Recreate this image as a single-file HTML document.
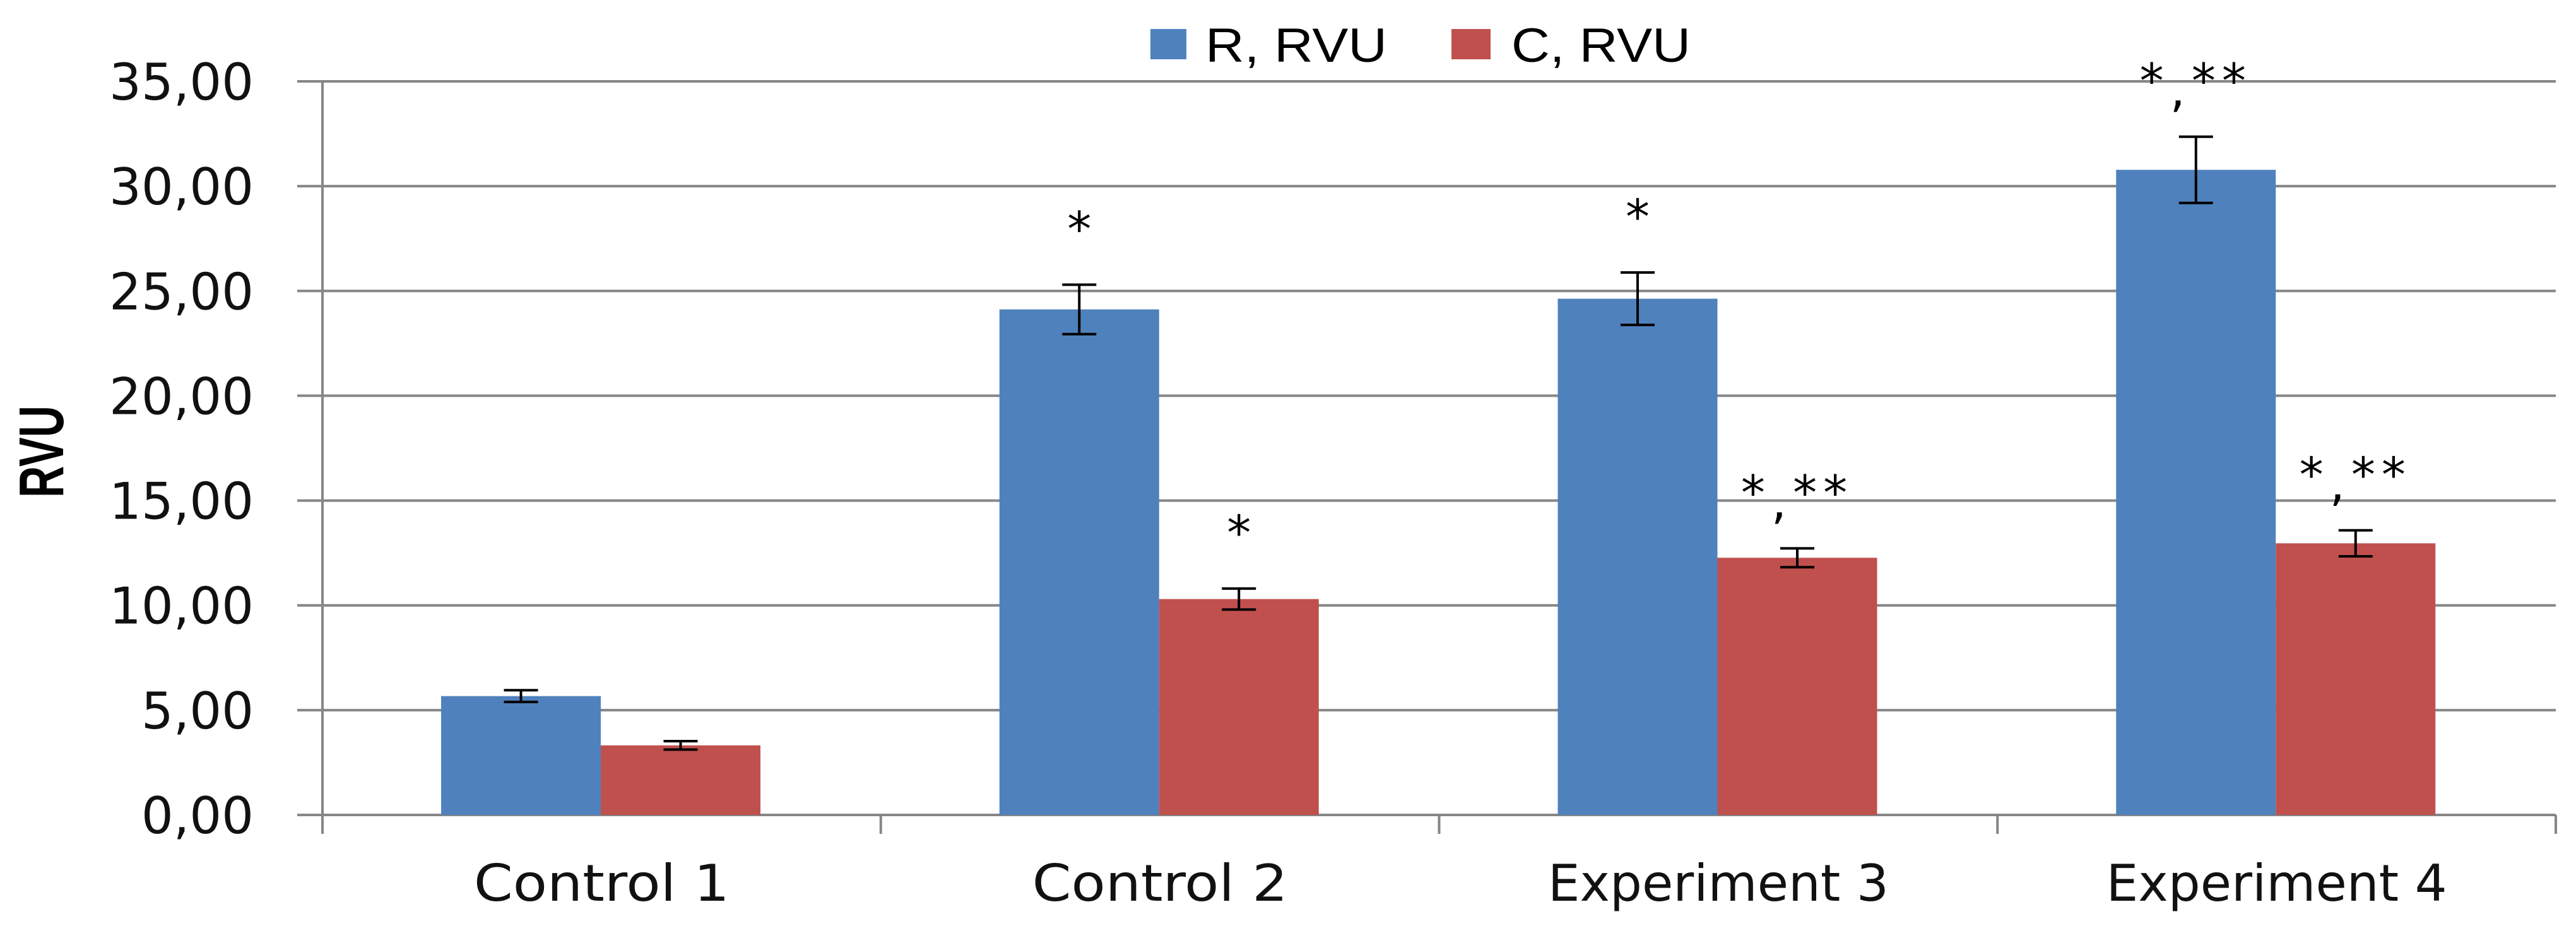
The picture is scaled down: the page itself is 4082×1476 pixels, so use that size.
<!DOCTYPE html>
<html><head><meta charset="utf-8"><style>
html,body{margin:0;padding:0;background:#fff;}
svg{display:block;}
</style></head><body>
<svg id="chart" width="4082" height="1476" viewBox="0 0 4082 1476" xmlns="http://www.w3.org/2000/svg">
<g>
<rect x="1823" y="46" width="57" height="48" fill="#4f81bd"/>
<text x="1910" y="98" font-family="Liberation Sans, sans-serif" font-size="76" textLength="288" lengthAdjust="spacingAndGlyphs">R, RVU</text>
<rect x="2300" y="46" width="62" height="48" fill="#c0504d"/>
<text x="2395" y="98" font-family="Liberation Sans, sans-serif" font-size="76" textLength="284" lengthAdjust="spacingAndGlyphs">C, RVU</text>
</g>
<text transform="translate(100,716) rotate(-90)" text-anchor="middle" font-family="Liberation Sans, sans-serif" font-weight="bold" font-size="100" textLength="146" lengthAdjust="spacingAndGlyphs">RVU</text>
<g id="plot"></g>
</svg>
<script>
const categories = ["Control 1","Control 2","Experiment 3","Experiment 4"];
const seriesR = [5.67, 24.12, 24.63, 30.78];
const seriesC = [3.32, 10.3, 12.27, 12.96];
const errR = [0.28, 1.18, 1.25, 1.58];
const errC = [0.2, 0.5, 0.45, 0.62];
const labelsR = ["", "*", "*", "*,**"];
const labelsC = ["", "*", "*,**", "*,**"];
const yTicks = [0,5,10,15,20,25,30,35];
const yTickLabels = ["0,00","5,00","10,00","15,00","20,00","25,00","30,00","35,00"];

const NS="http://www.w3.org/2000/svg";
const plot=document.getElementById('plot');
const X0=511, X1=4050, Y0=1292, PPU=(1292-129)/35;
const catW=(X1-X0)/categories.length;
const barW=253, barOff=188;
function y(v){return Y0-v*PPU;}
function xCat(i){return X0+i*catW;}
function mk(tag,attrs,parent){const e=document.createElementNS(NS,tag);for(const k in attrs)e.setAttribute(k,attrs[k]);(parent||plot).appendChild(e);return e;}
const grey="#868686";
yTicks.forEach((t,i)=>{
  const gl=mk('line',{x1:471,x2:X1,y1:y(t),y2:y(t),stroke:grey,'stroke-width':4});
  
  
  const tl=mk('text',{x:402,y:y(t)+29,'text-anchor':'end','font-family':'DejaVu Sans, sans-serif','font-size':80,fill:'#111'});
  tl.textContent=yTickLabels[i];
  
  
});
const ax=mk('line',{x1:X0,x2:X0,y1:y(35),y2:1322,stroke:grey,'stroke-width':4});


for(let i=0;i<=categories.length;i++){
  const tk=mk('line',{x1:xCat(i),x2:xCat(i),y1:Y0,y2:1322,stroke:grey,'stroke-width':4});
  
  
}
function errBar(cx,v,e){
  const g=[mk('line',{x1:cx,x2:cx,y1:y(v+e),y2:y(v-e),stroke:'#000','stroke-width':4}),
  mk('line',{x1:cx-27,x2:cx+27,y1:y(v+e),y2:y(v+e),stroke:'#000','stroke-width':4}),
  mk('line',{x1:cx-27,x2:cx+27,y1:y(v-e),y2:y(v-e),stroke:'#000','stroke-width':4})];
  g.forEach(l=>{});
}
function sig(cx,top,txt){
  if(!txt)return;
  const t=mk('text',{x:cx,y:top-62,'text-anchor':'middle','font-family':'DejaVu Sans, sans-serif','font-size':76,fill:'#000','letter-spacing':txt.length>1?10:0});
  
  
  if(txt.length>1){
    const parts=txt.split(',');
    const a=mk('tspan',{},t); a.textContent=parts[0];
    const b=mk('tspan',{dy:14},t); b.textContent=',';
    const c=mk('tspan',{dy:-14},t); c.textContent=parts[1];
  } else t.textContent=txt;
}
categories.forEach((c,i)=>{
  const xb=xCat(i)+barOff;
  const br=mk('rect',{x:xb,y:y(seriesR[i]),width:barW,height:Y0-y(seriesR[i]),fill:'#4f81bd'});
  
  
  const bc=mk('rect',{x:xb+barW,y:y(seriesC[i]),width:barW,height:Y0-y(seriesC[i]),fill:'#c0504d'});
  
  
  errBar(xb+barW/2,seriesR[i],errR[i]);
  errBar(xb+barW*1.5,seriesC[i],errC[i]);
  sig(xb+barW/2,y(seriesR[i]+errR[i]),labelsR[i]);
  sig(xb+barW*1.5,y(seriesC[i]+errC[i]),labelsC[i]);
  const cl=mk('text',{x:xCat(i)+catW/2,y:1428,'text-anchor':'middle','font-family':'DejaVu Sans, sans-serif','font-size':80,fill:'#111',textLength:c.length*45,lengthAdjust:'spacingAndGlyphs'});
  cl.textContent=c;
  
  
});
</script>
</body></html>
